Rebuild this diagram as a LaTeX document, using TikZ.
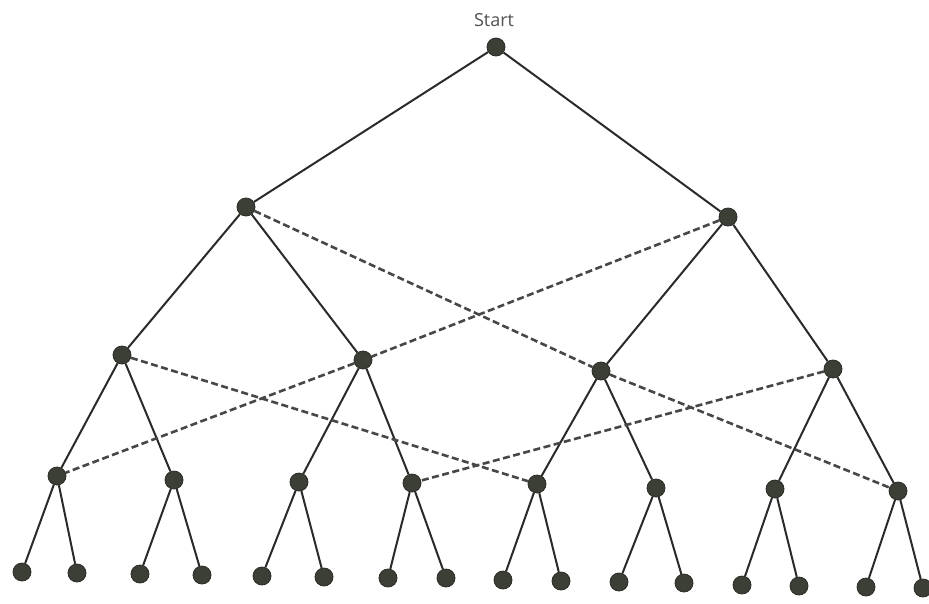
\documentclass[tikz,border=0pt]{standalone}
\usepackage{fontspec}
\setmainfont{Open Sans}
\begin{document}
\begin{tikzpicture}[x=1pt,y=-1pt,
  dot/.style={circle,fill=dotfill,draw=dotedge,line width=0.8pt,minimum size=18pt,inner sep=0pt},
  edge/.style={draw=linecol,line width=2pt},
  cross/.style={draw=dashcol,line width=2.6pt,dash pattern=on 7pt off 3.5pt}]
\definecolor{dotfill}{HTML}{3B3F36}
\definecolor{dotedge}{HTML}{2A2C27}
\definecolor{linecol}{HTML}{2A2A2A}
\definecolor{dashcol}{HTML}{474747}
\useasboundingbox[fill=white] (0,0) rectangle (929,603);
% root
\node[dot] (r) at (496,47) {};
\node[text=black!68,font=\fontsize{18pt}{20pt}\selectfont] (lbl) at (494,20) {Start};
% first level
\node[dot] (a1) at (246,207) {};
\node[dot] (a2) at (728,217) {};
% second level
\node[dot] (b1) at (122,355) {};
\node[dot] (b2) at (363,360) {};
\node[dot] (b3) at (601,371) {};
\node[dot] (b4) at (833,369) {};
% third level
\node[dot] (c1) at (57,476) {};
\node[dot] (c2) at (174,480) {};
\node[dot] (c3) at (299,482) {};
\node[dot] (c4) at (412,483) {};
\node[dot] (c5) at (537,484) {};
\node[dot] (c6) at (656,488) {};
\node[dot] (c7) at (775,489) {};
\node[dot] (c8) at (898,491) {};
% leaves
\node[dot] (d1) at (22,572) {};
\node[dot] (d2) at (77,573) {};
\node[dot] (d3) at (140,574) {};
\node[dot] (d4) at (202,575) {};
\node[dot] (d5) at (262,576) {};
\node[dot] (d6) at (324,577) {};
\node[dot] (d7) at (388,578) {};
\node[dot] (d8) at (446,578) {};
\node[dot] (d9) at (503,580) {};
\node[dot] (d10) at (561,581) {};
\node[dot] (d11) at (619,582) {};
\node[dot] (d12) at (684,583) {};
\node[dot] (d13) at (742,585) {};
\node[dot] (d14) at (799,586) {};
\node[dot] (d15) at (866,587) {};
\node[dot] (d16) at (923,588) {};
% tree edges
\foreach \p/\c in {r/a1,r/a2,a1/b1,a1/b2,a2/b3,a2/b4,
  b1/c1,b1/c2,b2/c3,b2/c4,b3/c5,b3/c6,b4/c7,b4/c8,
  c1/d1,c1/d2,c2/d3,c2/d4,c3/d5,c3/d6,c4/d7,c4/d8,
  c5/d9,c5/d10,c6/d11,c6/d12,c7/d13,c7/d14,c8/d15,c8/d16}
  \path[edge] (\p) -- (\c);
% dashed cross links
\path[cross] (a1) -- (b3) -- (c8);
\path[cross] (a2) -- (b2) -- (c1);
\path[cross] (b1) -- (c5);
\path[cross] (b4) -- (c4);
\end{tikzpicture}
\end{document}
